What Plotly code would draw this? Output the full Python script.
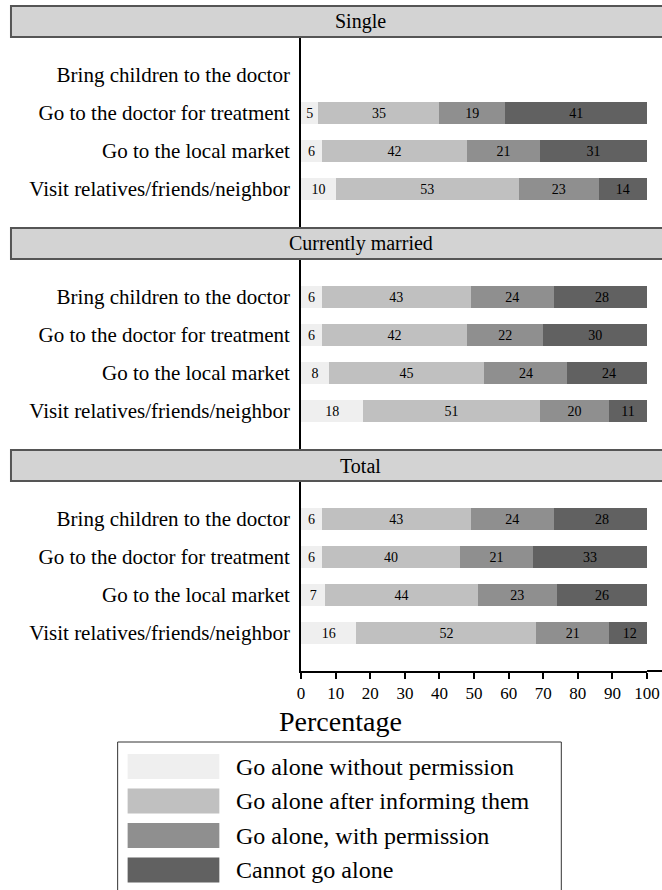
import plotly.graph_objects as go

W, H = 677, 890   # design frame below is 662 px wide; fractions are width-independent
REF_W = 662
X_SHIFT = 2

panels = ["Single", "Currently married", "Total"]
activities = [
    "Bring children to the doctor",
    "Go to the doctor for treatment",
    "Go to the local market",
    "Visit relatives/friends/neighbor",
]
series = [
    "Go alone without permission",
    "Go alone after informing them",
    "Go alone, with permission",
    "Cannot go alone",
]
colors = ["#efefef", "#c0c0c0", "#8f8f8f", "#616161"]

# values[panel][series] -> per activity
single_vals = [
    [None, 5, 6, 10],
    [None, 35, 42, 53],
    [None, 19, 21, 23],
    [None, 41, 31, 14],
]
married_vals = [
    [6, 6, 8, 18],
    [43, 42, 45, 51],
    [24, 22, 24, 20],
    [28, 30, 24, 11],
]
total_vals = [
    [6, 6, 7, 16],
    [43, 40, 44, 52],
    [24, 21, 23, 21],
    [28, 33, 26, 12],
]
panel_vals = [single_vals, married_vals, total_vals]
x_ticks = list(range(0, 101, 10))

FONT = "Liberation Serif, Times New Roman, serif"

def px_x(p):
    return (p - X_SHIFT) / REF_W

def px_y(p):
    return 1 - p / H

# layout geometry in pixels
x_left, x_right = 300, 647
header_tops = [6, 228, 450]
header_h = 31
panel_h = 190

fig = go.Figure()
layout = dict(
    width=W, height=H, autosize=False,
    margin=dict(l=0, r=0, t=0, b=0),
    paper_bgcolor="white", plot_bgcolor="white",
    barmode="stack", showlegend=False,
    font=dict(family=FONT, color="black"),
    uniformtext=dict(minsize=14, mode="show"),
)
shapes = []
annotations = []

for i, (pname, vals) in enumerate(zip(panels, panel_vals)):
    sfx = "" if i == 0 else str(i + 1)
    top = header_tops[i] + header_h
    bottom = top + panel_h
    for s, (sname, col) in enumerate(zip(series, colors)):
        xs = vals[s]
        fig.add_trace(go.Bar(
            y=activities, x=xs, orientation="h", name=sname,
            marker=dict(color=col, line=dict(width=0)),
            width=0.6,
            text=[("" if v is None else str(v)) for v in xs],
            textposition="inside", insidetextanchor="middle", textangle=0,
            textfont=dict(size=14, color="black", family=FONT),
            xaxis="x" + sfx, yaxis="y" + sfx,
            hoverinfo="skip",
        ))
    last = (i == 2)
    layout["xaxis" + sfx] = dict(
        domain=[px_x(x_left), px_x(x_right)], range=[0, 100],
        anchor="y" + sfx, showgrid=False, zeroline=False,
        showline=last, linecolor="black", linewidth=2,
        ticks="outside" if last else "", ticklen=6, tickwidth=1.5, tickcolor="black",
        tickvals=x_ticks if last else [], showticklabels=last,
        tickfont=dict(size=17, family=FONT, color="black"),
        fixedrange=True,
    )
    layout["yaxis" + sfx] = dict(
        domain=[px_y(bottom), px_y(top)], anchor="x" + sfx,
        type="category", categoryorder="array", categoryarray=activities,
        range=[4, -1], showgrid=False, zeroline=False,
        showline=True, linecolor="black", linewidth=2, ticks="",
        ticklabelstandoff=5,
        tickfont=dict(size=21, family=FONT, color="black"),
        fixedrange=True,
    )
    # header strip
    shapes.append(dict(
        type="rect", xref="paper", yref="paper",
        x0=px_x(9), x1=1.05, y0=px_y(header_tops[i] + header_h), y1=px_y(header_tops[i]),
        fillcolor="#d3d3d3", line=dict(color="#555555", width=2), layer="above",
    ))
    annotations.append(dict(
        text=pname, xref="paper", yref="paper", x=px_x(360),
        y=px_y(header_tops[i] + header_h / 2), xanchor="center", yanchor="middle",
        showarrow=False, font=dict(size=20, family=FONT, color="black"),
    ))

# extend bottom axis line to the right edge
shapes.append(dict(type="line", xref="paper", yref="paper",
                   x0=px_x(x_right), x1=1.05, y0=px_y(671), y1=px_y(671),
                   line=dict(color="black", width=2)))

annotations.append(dict(
    text="Percentage", xref="paper", yref="paper", x=px_x(340), y=px_y(721),
    xanchor="center", yanchor="middle", showarrow=False,
    font=dict(size=28, family=FONT, color="black"),
))

# legend box
shapes.append(dict(type="rect", xref="paper", yref="paper",
                   x0=px_x(116), x1=px_x(561), y0=px_y(896), y1=px_y(742),
                   line=dict(color="#333333", width=1), fillcolor="white", layer="below"))
for k, (sname, col) in enumerate(zip(series, colors)):
    cy = 766.5 + k * 34.5
    shapes.append(dict(type="rect", xref="paper", yref="paper",
                       x0=px_x(126), x1=px_x(218), y0=px_y(cy + 12.5), y1=px_y(cy - 12.5),
                       fillcolor=col, line=dict(width=0)))
    annotations.append(dict(
        text=sname, xref="paper", yref="paper", x=px_x(233), y=px_y(cy),
        xanchor="left", yanchor="middle", showarrow=False,
        font=dict(size=24, family=FONT, color="black"),
    ))

layout["shapes"] = shapes
layout["annotations"] = annotations
fig.update_layout(**layout)
fig.write_html(
    "out.html",
    config={"displayModeBar": False, "responsive": False},
    post_script=(
        "document.documentElement.style.overflow='hidden';"
        "document.body.style.margin='0';document.body.style.overflow='hidden';"
    ),
)
